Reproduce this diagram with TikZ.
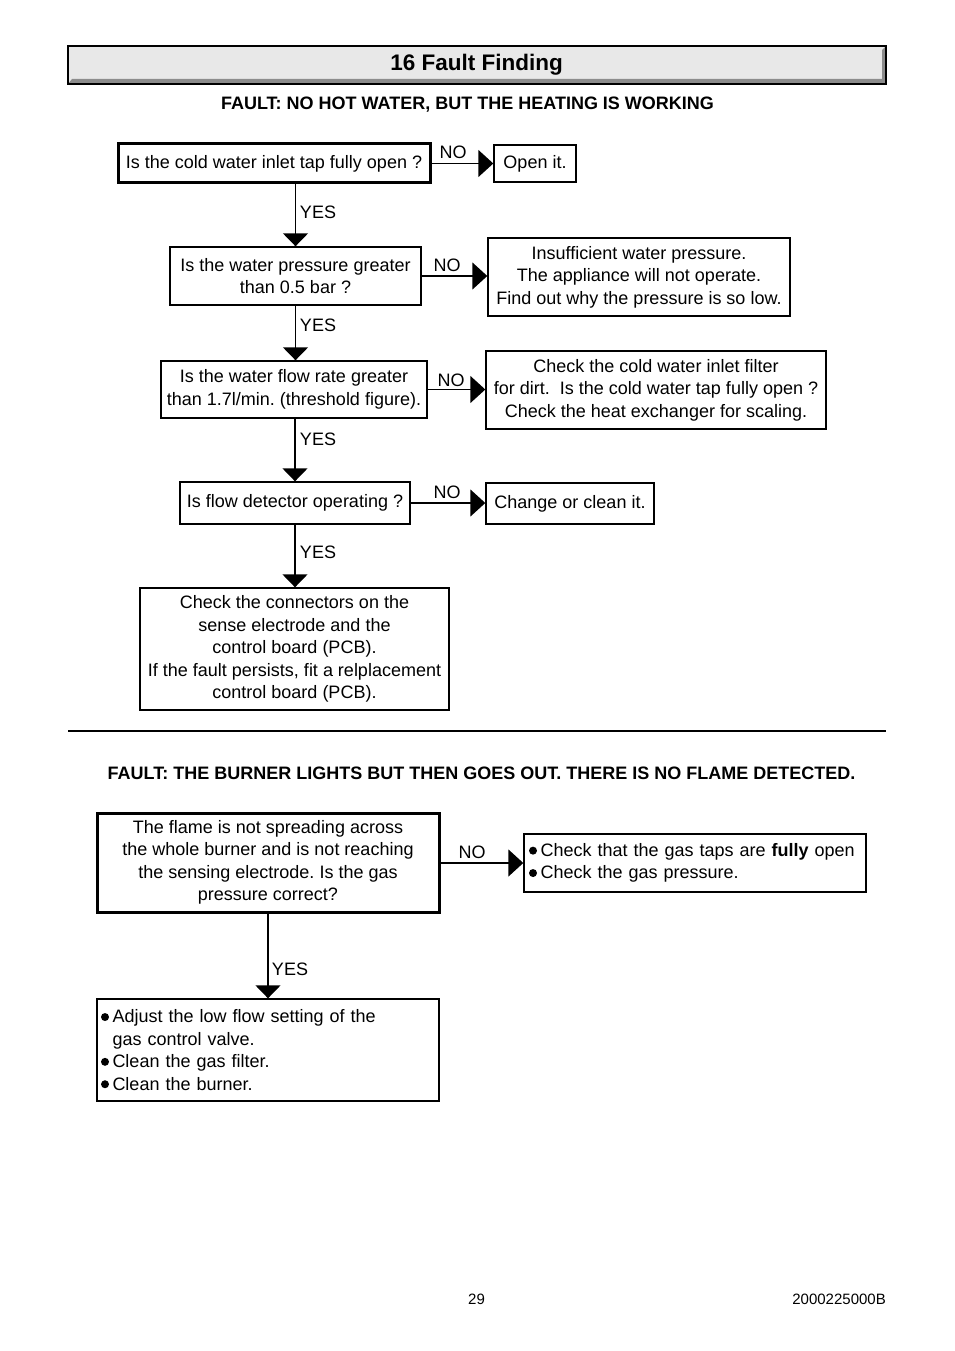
\documentclass[tikz,border=0pt]{standalone}
\usepackage{fontspec}
\setmainfont{Liberation Sans}
\usetikzlibrary{arrows.meta}
\newcommand\mybul{\tikz[baseline=0pt,x=1pt,y=1pt,scale=1]\fill (4,5.8) circle [radius=4];\hspace{3.5pt}}
\begin{document}
\frenchspacing
\begin{tikzpicture}[x=1pt,y=-1pt,
 txt/.style={font=\fontsize{18}{22.4}\selectfont},
 thinbox/.style={draw, line width=1.4pt, inner sep=0pt, align=center, txt},
 thickbox/.style={draw, line width=3pt, inner sep=0pt, align=center, txt},
 conn/.style={line width=1.4pt},
 harrow/.style={conn, -{Triangle[length=15pt,width=27pt]}},
 varrow/.style={conn, -{Triangle[length=13pt,width=25pt]}},
 lbl/.style={txt, inner sep=0pt},
 head/.style={font=\bfseries\fontsize{18}{20}\selectfont, inner sep=0pt},
]
\useasboundingbox (0,0) rectangle (954,1351);
% title bar
\fill[black!9] (68,46) rectangle (886,84);
\fill[black!45] (68,84) -- (886,84) -- (886,46) -- (882,50) -- (882,79) -- (72,79) -- cycle;
\draw[line width=1.2pt] (68,46) rectangle (886,84);
\node[inner sep=0pt, font=\bfseries\fontsize{22.5}{26}\selectfont] (title) at (476.5,65) {16 Fault Finding};

\node[head] (h1) at (467.5,105) {FAULT: NO HOT WATER, BUT THE HEATING IS WORKING};

% first flowchart
\node[thickbox, minimum width=312pt, minimum height=39pt] (b1) at (274,163.5) {Is the cold water inlet tap fully open ?};
\node[thinbox, minimum width=82pt, minimum height=37pt] (o1) at (535,163.5) {Open it.};
\node[thinbox, minimum width=251pt, minimum height=58pt] (b2) at (295.5,276) {Is the water pressure greater\\than 0.5 bar ?};
\node[thinbox, minimum width=302pt, minimum height=78pt] (o2) at (639,277) {Insufficient water pressure.\\The appliance will not operate.\\Find out why the pressure is so low.};
\node[thinbox, minimum width=266pt, minimum height=57pt] (b3) at (294,389.5) {Is the water flow rate greater\\than 1.7l/min. (threshold figure).};
\node[thinbox, minimum width=340pt, minimum height=78pt] (o3) at (656,390) {Check the cold water inlet filter\\for dirt.\ \ Is the cold water tap fully open ?\\Check the heat exchanger for scaling.};
\node[thinbox, minimum width=230pt, minimum height=42pt] (b4) at (295,503) {Is flow detector operating ?};
\node[thinbox, minimum width=168pt, minimum height=41pt] (o4) at (570,503.5) {Change or clean it.};
\node[thinbox, minimum width=309pt, minimum height=122pt] (b5) at (294.5,649) {Check the connectors on the\\sense electrode and the\\control board (PCB).\\If the fault persists, fit a relplacement\\control board (PCB).};

\draw[harrow] (b1.east) -- (o1.west);
\draw[harrow] (b2.east) -- (b2.east -| o2.west);
\draw[harrow] (b3.east) -- (b3.east -| o3.west);
\draw[harrow] (b4.east) -- (b4.east -| o4.west);
\draw[varrow] (b2.north |- b1.south) -- (b2.north);
\draw[varrow] (b2.south) -- (b2.south |- b3.north);
\draw[varrow] (b3.south -| b4.north) -- (b4.north);
\draw[varrow] (b4.south) -- (b4.south |- b5.north);

\node[lbl] (n1) at (453,152) {NO};
\node[lbl] (n2) at (447,265) {NO};
\node[lbl] (n3) at (451,380) {NO};
\node[lbl] (n4) at (447,492) {NO};
\node[lbl] (y1) at (318,212) {YES};
\node[lbl] (y2) at (318,325) {YES};
\node[lbl] (y3) at (318,439) {YES};
\node[lbl] (y4) at (318,552) {YES};

% separator
\draw[line width=2.5pt] (68,731) -- (886,731);

\node[head] (h2) at (481.5,773) {FAULT: THE BURNER LIGHTS BUT THEN GOES OUT. THERE IS NO FLAME DETECTED.};

% second flowchart
\node[thickbox, minimum width=342pt, minimum height=99pt] (b6) at (268,862.5) {The flame is not spreading across\\the whole burner and is not reaching\\the sensing electrode. Is the gas\\pressure correct?};
\node[thinbox, align=left, inner xsep=5pt, text width=332pt, minimum height=58pt] (o6) at (695,863) {\mybul Check that the gas taps are \textbf{fully} open\\\mybul Check the gas pressure.};
\node[thinbox, align=left, inner xsep=4pt, text width=334pt, minimum height=102pt] (b7) at (268,1050) {\mybul Adjust the low flow setting of the\\\phantom{\mybul}gas control valve.\\\mybul Clean the gas filter.\\\mybul Clean the burner.};

\draw[harrow] (b6.east |- o6.west) -- (o6.west);
\draw[varrow] (b6.south) -- (b7.north);
\node[lbl] (n6) at (472,852) {NO};
\node[lbl] (y6) at (290,969) {YES};

% footer
\node[inner sep=0pt, font=\fontsize{15}{18}\selectfont] (pg) at (476.5,1299) {29};
\node[inner sep=0pt, anchor=east, font=\fontsize{15}{18}\selectfont] (doc) at (886,1299) {2000225000B};
\end{tikzpicture}
\end{document}
